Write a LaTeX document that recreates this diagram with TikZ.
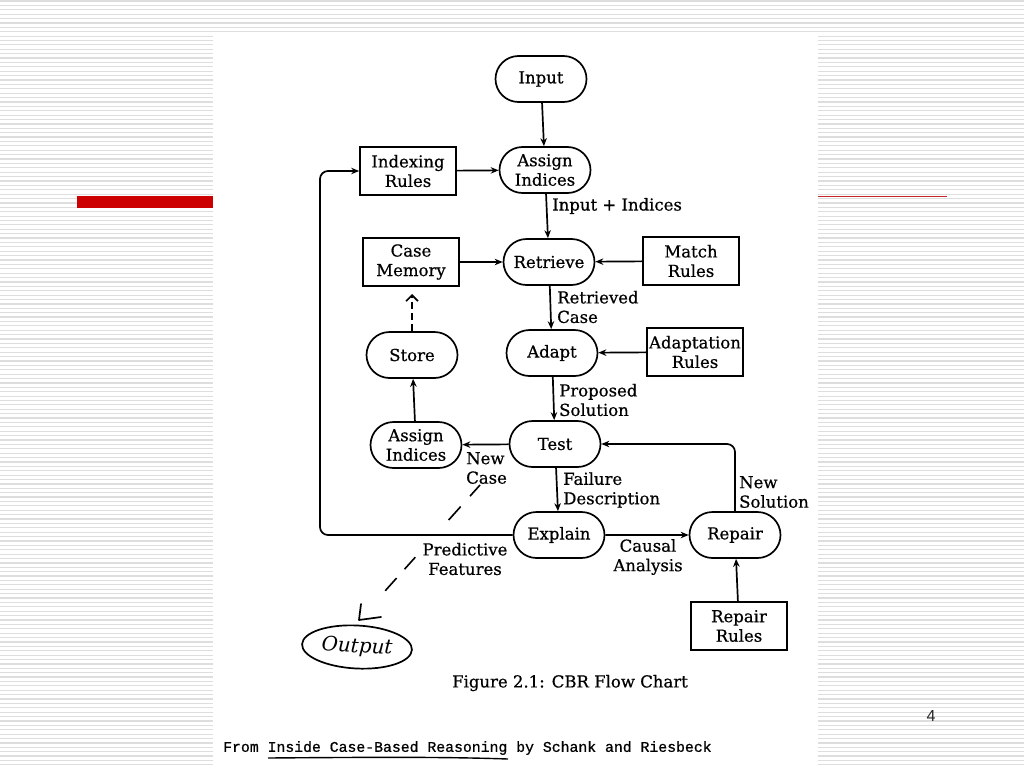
\documentclass[tikz,border=0pt]{standalone}
\usepackage{fontspec}
\setmainfont{DejaVu Serif}
\newfontfamily\scanfont{DejaVu Serif}[FakeBold=0.6]
\newfontfamily\footmono{Liberation Mono}[FakeBold=0.8]
\newfontfamily\pagenumfont{Liberation Sans}
\usetikzlibrary{shapes.misc,shapes.geometric,arrows.meta}
\newcommand\dfont{\scanfont\fontsize{16.5pt}{19.5pt}\selectfont}
\definecolor{slidered}{RGB}{204,0,0}
\definecolor{thinred}{RGB}{196,40,40}
\definecolor{stripegray}{RGB}{222,222,222}
\begin{document}
\begin{tikzpicture}[x=1pt,y=-1pt,
  stadium/.style={rounded rectangle, draw, line width=1.7pt, minimum width=93pt, minimum height=46pt, align=center, inner sep=1pt, font=\dfont},
  rulebox/.style={rectangle, draw, line width=1.7pt, minimum width=96pt, minimum height=48pt, align=center, inner sep=0.5pt, font=\dfont},
  lbl/.style={inner sep=0pt, align=left, font=\dfont},
  conn/.style={line width=1.7pt, -{Stealth[length=8pt,width=6.5pt]}},
  stripe/.style={draw=stripegray, line width=1.2pt}
  ]
\useasboundingbox (0,0) rectangle (1024,768);
\fill[white] (0,0) rectangle (1024,768);
% slide background stripes
\foreach \i in {0,...,175} { \draw[stripe] (0,{\i*4.39+1}) -- (1024,{\i*4.39+1}); }
% scanned page
\fill[white] (213,35) rectangle (818,768);
% red decorations
\fill[slidered] (77,196) rectangle (213,208);
\draw[thinred, line width=1pt] (818,196) -- (947,196);

% nodes
\node[stadium] (input) at (541,79) {Input};
\node[stadium] (assign1) at (545,170) {Assign\\Indices};
\node[rulebox] (idx) at (408,171) {Indexing\\Rules};
\node[rulebox] (mem) at (411,262) {Case\\Memory};
\node[stadium] (retr) at (549,262) {Retrieve};
\node[rulebox] (match) at (691,261) {Match\\Rules};
\node[stadium] (adapt) at (552,353) {Adapt};
\node[rulebox] (adrules) at (695,352) {Adaptation\\Rules};
\node[stadium] (store) at (412,355) {Store};
\node[stadium] (test) at (555,444) {Test};
\node[stadium] (assign2) at (416,445) {Assign\\Indices};
\node[stadium] (explain) at (559,535) {Explain};
\node[stadium] (repair) at (735,535) {Repair};
\node[rulebox] (reprules) at (739,626) {Repair\\Rules};
\node[ellipse, draw, line width=1.7pt, minimum width=110pt, minimum height=43pt, inner sep=0pt, rotate=-3, font=\itshape\fontsize{20pt}{22pt}\selectfont] (out) at (357,647) {Output};

% labels
\node[lbl, anchor=west] (l1) at (552,206) {Input + Indices};
\node[lbl, anchor=west] (l2) at (557,307) {Retrieved\\Case};
\node[lbl, anchor=west] (l3) at (559,400) {Proposed\\Solution};
\node[lbl, anchor=west] (l4) at (466,468) {New\\Case};
\node[lbl, anchor=west] (l5) at (563,490) {Failure\\Description};
\node[lbl, anchor=west] (l6) at (739,492) {New\\Solution};
\node[lbl, align=center] (l7) at (465,559) {Predictive\\Features};
\node[lbl, align=center] (l8) at (648,557) {Causal\\Analysis};

% connectors
\draw[conn] (input) -- (assign1);
\draw[conn] (idx) -- (assign1);
\draw[conn] (assign1) -- (retr);
\draw[conn] (mem) -- (retr);
\draw[conn] (match) -- (retr);
\draw[conn] (retr) -- (adapt);
\draw[conn] (adrules) -- (adapt);
\draw[conn] (adapt) -- (test);
\draw[conn] (test) -- (assign2);
\draw[conn] (assign2) -- (store);
\draw[conn] (test) -- (explain);
\draw[conn] (explain) -- (repair);
\draw[conn] (reprules) -- (repair);
\draw[conn, rounded corners=8pt] (repair.north) |- (test.east);
\coordinate (lc) at (320,535);
\draw[conn, rounded corners=8pt] (explain.west) -- (lc) |- (idx.west);

% dashed connectors
\coordinate (memtip) at (412,294);
\draw[line width=1.6pt, dash pattern=on 7pt off 4pt, -{Straight Barb[length=6pt,width=12pt]}] (store.north) -- (memtip);
\coordinate (ncase) at (480,485);
\coordinate (outtip) at (359,620);
\coordinate (headup) at (361,604);
\coordinate (headright) at (381,617);
\draw[line width=1.6pt, dash pattern=on 15pt off 14pt on 18pt off 50pt on 16pt off 12pt on 17pt off 40pt] (ncase) -- (outtip);
\draw[line width=1.7pt, line cap=round, line join=round] (headup) -- (outtip) -- (headright);

% caption
\node[font=\scanfont\fontsize{16.5pt}{19pt}\selectfont] (cap) at (570,683) {Figure 2.1: CBR Flow Chart};
\node[anchor=west, inner sep=0pt, font=\footmono\fontsize{14.8pt}{16pt}\selectfont] (foot) at (223,748) {From Inside Case-Based Reasoning by Schank and Riesbeck};
\draw[line width=1.4pt] (268,758) .. controls (390,757) and (450,757) .. (508,759);

% page number
\node[font=\pagenumfont\fontsize{16pt}{18pt}\selectfont, text=black!85] (pg) at (931,716) {4};
\end{tikzpicture}
\end{document}
